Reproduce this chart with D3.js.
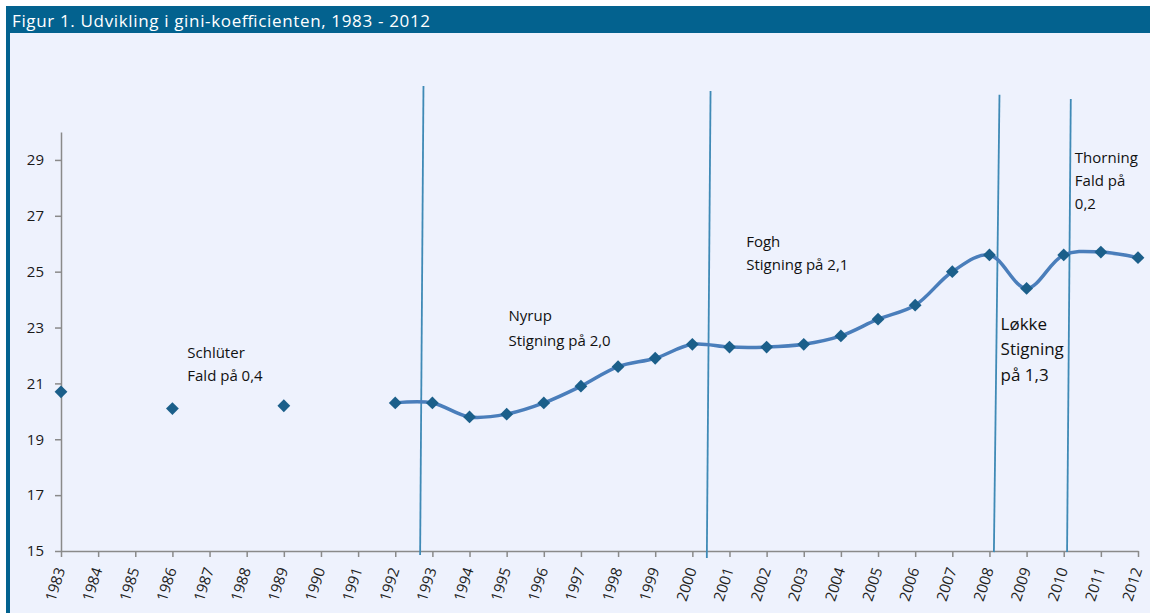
<!DOCTYPE html>
<html>
<head>
<meta charset="utf-8">
<script src="https://cdn.jsdelivr.net/npm/d3@7"></script>
<style>
  body { margin: 0; background: #fff; }
  svg { display: block; font-family: "Open Sans", "Noto Sans", sans-serif; }
</style>
</head>
<body>
<svg width="1150" height="613"></svg>
<script>
var years = d3.range(1983, 2013);
var yTicks = [15, 17, 19, 21, 23, 25, 27, 29];

// gini per year, null = no data
var gini = [20.7, null, null, 20.1, null, null, 20.2, null, null,
  20.3, 20.3, 19.8, 19.9, 20.3, 20.9, 21.6, 21.9, 22.4, 22.3, 22.3,
  22.4, 22.7, 23.3, 23.8, 25.0, 25.6, 24.4, 25.6, 25.7, 25.5];

// government change lines (year position at top / bottom, value at top / bottom)
var dividerTopX = [1992.76, 2000.49, 2008.27, 2010.19];
var dividerBotX = [1992.67, 2000.39, 2008.12, 2010.09];
var dividerTopY = [31.65, 31.47, 31.33, 31.18];
var dividerBotY = [14.86, 14.75, 14.96, 14.96];

var notes = [
  {lines: ['Schlüter', 'Fald på 0,4'], year: 1986.4, value: 21.9, size: 15, gap: 23},
  {lines: ['Nyrup', 'Stigning på 2,0'], year: 1995.05, value: 23.22, size: 15, gap: 25},
  {lines: ['Fogh', 'Stigning på 2,1'], year: 2001.45, value: 25.9, size: 15, gap: 23},
  {lines: ['Løkke', 'Stigning', 'på 1,3'], year: 2008.3, value: 22.92, size: 17, gap: 25.5},
  {lines: ['Thorning', 'Fald på', '0,2'], year: 2010.3, value: 28.9, size: 15, gap: 23}
];

var svg = d3.select('svg'),
  width = +svg.attr('width'),
  height = +svg.attr('height');

// frame
svg.append('rect').attr('x', 6).attr('y', 6).attr('width', width - 6).attr('height', height - 6).attr('fill', '#03628f');
svg.append('rect').attr('x', 10).attr('y', 33).attr('width', width - 10).attr('height', height - 33).attr('fill', '#eef2fd');
svg.append('text')
  .attr('x', 12).attr('y', 27)
  .attr('fill', '#fff')
  .attr('font-size', 17)
  .attr('textLength', 418)
  .text('Figur 1. Udvikling i gini-koefficienten, 1983 - 2012');

var x = d3.scaleLinear().domain([1983, 2012]).range([61, 1138]);
var y = d3.scaleLinear().domain([15, 30]).range([551, 132]);

var axisColor = '#8a8a8a';

var xAxis = svg.append('g')
  .attr('transform', 'translate(0,' + y(15) + ')')
  .call(d3.axisBottom(x).tickValues(years).tickFormat(d3.format('d')).tickSize(6).tickSizeOuter(0));
xAxis.select('.domain').attr('stroke', axisColor).attr('stroke-width', 1.5);
xAxis.selectAll('.tick line').attr('stroke', axisColor).attr('stroke-width', 1.5);
xAxis.selectAll('.tick text')
  .attr('font-size', 15)
  .attr('fill', '#222')
  .attr('font-family', '"Open Sans", sans-serif')
  .attr('text-anchor', 'end')
  .attr('dy', '0.35em')
  .attr('transform', 'translate(-1,17) rotate(-72)')
  .attr('x', 0).attr('y', 0);

var yAxis = svg.append('g')
  .attr('transform', 'translate(' + x(1983) + ',0)')
  .call(d3.axisLeft(y).tickValues(yTicks).tickSize(6).tickSizeOuter(0).tickPadding(11));
yAxis.select('.domain').attr('stroke', axisColor).attr('stroke-width', 1.5);
yAxis.selectAll('.tick line').attr('stroke', axisColor).attr('stroke-width', 1.5);
yAxis.selectAll('.tick text').attr('font-size', 15).attr('fill', '#1a1a1a').attr('font-family', '"Open Sans", sans-serif');

// dividers
svg.append('g').selectAll('line')
  .data(dividerTopX)
  .enter().append('line')
  .attr('x1', function(d) { return x(d); })
  .attr('y1', function(d, i) { return y(dividerTopY[i]); })
  .attr('x2', function(d, i) { return x(dividerBotX[i]); })
  .attr('y2', function(d, i) { return y(dividerBotY[i]); })
  .attr('stroke', '#3f8ab6')
  .attr('stroke-width', 1.8);

// smoothed line for the continuous run
var pts = years.map(function(yr, i) { return {year: yr, v: gini[i]}; });
var line = d3.line()
  .defined(function(d) { return d.v != null; })
  .x(function(d) { return x(d.year); })
  .y(function(d) { return y(d.v); })
  .curve(d3.curveCatmullRom.alpha(0.5));

svg.append('path')
  .datum(pts.filter(function(d) { return d.year >= 1992; }))
  .attr('d', line)
  .attr('fill', 'none')
  .attr('stroke', '#4a7ebb')
  .attr('stroke-width', 3.5)
  .attr('stroke-linejoin', 'round');

// square markers turned 45 degrees
var marker = d3.symbol().type(d3.symbolSquare).size(82);
svg.append('g').selectAll('path')
  .data(pts.filter(function(d) { return d.v != null; }))
  .enter().append('path')
  .attr('d', marker)
  .attr('transform', function(d) { return 'translate(' + x(d.year) + ',' + y(d.v) + ') rotate(45)'; })
  .attr('fill', '#1b5f8a');

// annotations
notes.forEach(function(n) {
  var t = svg.append('text')
    .attr('x', x(n.year))
    .attr('y', y(n.value))
    .attr('font-size', n.size)
    .attr('fill', '#111');
  n.lines.forEach(function(l, i) {
    t.append('tspan')
      .attr('x', x(n.year))
      .attr('dy', i === 0 ? 0 : n.gap)
      .text(l);
  });
});
</script>
</body>
</html>
